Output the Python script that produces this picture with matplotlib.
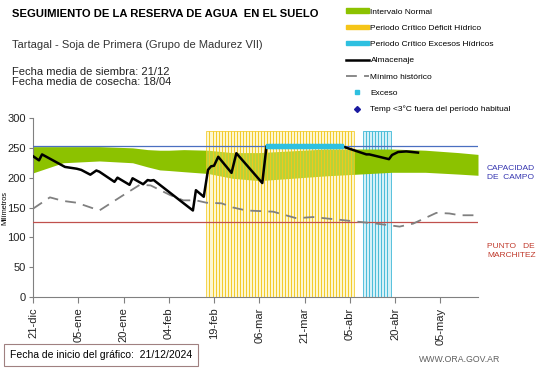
import numpy as np
import matplotlib
matplotlib.use("Agg")
import matplotlib.pyplot as plt
from matplotlib.lines import Line2D
from matplotlib.patches import Patch

plt.rcParams['font.family'] = ['Liberation Sans', 'DejaVu Sans']

# days counted from 21-dic
tick_days = [0, 15, 30, 45, 60, 75, 90, 105, 120, 135]
tick_labels = ['21-dic', '05-ene', '20-ene', '04-feb', '19-feb', '06-mar',
               '21-mar', '05-abr', '20-abr', '05-may']

# intervalo normal (upper / lower)
band_days = [0, 10, 22, 33, 38, 42, 45, 50, 58, 66, 75, 86, 97, 108, 119, 130, 141, 147.5]
band_high = [252, 252, 252, 250, 247, 246, 246, 247, 246, 242, 242, 245, 248, 248, 248, 246, 242, 239]
band_low = [208, 225, 228, 225, 218, 213, 212, 210, 207, 199, 195, 199, 203, 206, 209, 209, 206, 204]

# almacenaje
alm_days = [0, 2, 3, 10.6, 14.5, 16, 19, 21, 22, 27, 28, 32, 33, 36.5, 38, 39, 40,
            53, 54, 56.6, 58, 59, 60, 61.4, 65.8, 67.4, 76, 77.4, 102.8, 110.5,
            111.5, 118, 119, 121, 123.7, 127.6]
alm_vals = [236, 229, 239, 218, 215, 213, 205, 212, 210, 193, 200, 188, 199, 189, 196, 195, 196,
            145, 179, 168, 213, 219, 220, 235, 208, 241, 191, 253, 252, 239,
            239, 231, 238, 243, 244, 242]

# minimo historico
min_days = [0, 5.6, 10, 14.5, 22, 29.4, 35.4, 39, 45.4, 49.8, 54, 57.5, 62.5, 66.3, 70.7,
            79.6, 87.3, 92.8, 100.5, 108, 113.8, 121.5, 126, 133.7, 138, 141.4, 147.5]
min_vals = [148, 167, 161, 158, 145, 169, 188, 187, 171, 162, 162, 158, 157, 150, 145,
            143, 132, 134, 130, 126, 123, 118, 123, 141, 140, 137, 137]

capacidad = 253
marchitez = 125
deficit_period = (58, 106)
exceso_period = (110, 118)
exceso_marks = (78, 102)
bar_top = 278

fig = plt.figure(figsize=(5.41, 3.68), dpi=100)
ax = fig.add_axes([33 / 541, 71 / 368, 445 / 541, 179 / 368])

ax.fill_between(band_days, band_low, band_high, color='#8cc200', lw=0, zorder=2)

d_days = np.arange(deficit_period[0], deficit_period[1] + 1)
ax.bar(d_days, bar_top, width=1, color=(0.99, 0.93, 0.55, 0.4),
       edgecolor=(0.95, 0.78, 0.1, 0.75), linewidth=0.7, zorder=3)
e_days = np.arange(exceso_period[0], exceso_period[1] + 1)
ax.bar(e_days, bar_top, width=1, color='#d6f1f7', edgecolor='#40b8d8', linewidth=0.6, zorder=1)

ax.axhline(capacidad, color='#4a6fc0', lw=0.9, zorder=4)
ax.axhline(marchitez, color='#c0504d', lw=0.9, zorder=4)

ax.plot(min_days, min_vals, color='#808080', lw=1.3, dashes=(6, 4), zorder=5)
ax.plot(alm_days, alm_vals, color='black', lw=1.8, zorder=6)
x_days = np.arange(exceso_marks[0], exceso_marks[1] + 1)
ax.plot(x_days, [capacidad] * len(x_days), 's', color='#2ec0e0', ms=3.2, zorder=7)

ax.set_xlim(0, 147.5)
ax.set_ylim(0, 300)
ax.set_xticks(tick_days)
ax.set_xticklabels(tick_labels, rotation=90, fontsize=8, color='#222222')
ax.set_yticks(range(0, 301, 50))
ax.tick_params(axis='y', labelsize=8, colors='#222222', length=3, color='#808080', pad=2)
ax.tick_params(axis='x', length=4, color='#808080')
for s in ['top', 'right']:
    ax.spines[s].set_visible(False)
for s in ['left', 'bottom']:
    ax.spines[s].set_color('#808080')
fig.text(5 / 541, 1 - 208 / 368, 'Milímetros', fontsize=5.3, rotation=90,
         ha='center', va='center')

fig.text(487 / 541, 1 - 173 / 368, 'CAPACIDAD\nDE  CAMPO', color='#3535b0', fontsize=6,
         va='center', ha='left', linespacing=1.3)
fig.text(487 / 541, 1 - 251 / 368, 'PUNTO   DE\nMARCHITEZ', color='#c0392b', fontsize=6,
         va='center', ha='left', linespacing=1.3)

fig.text(12 / 541, 1 - 14 / 368, 'SEGUIMIENTO DE LA RESERVA DE AGUA  EN EL SUELO',
         fontsize=8.1, fontweight='bold', va='center')
fig.text(12 / 541, 1 - 45 / 368, 'Tartagal - Soja de Primera (Grupo de Madurez VII)',
         fontsize=8, color='#333333', va='center')
fig.text(12 / 541, 1 - 77 / 368, 'Fecha media de siembra: 21/12\nFecha media de cosecha: 18/04',
         fontsize=8, color='#222222', va='center', linespacing=1.0)

handles = [
    Patch(color='#8cc200'),
    Patch(color='#f5c518'),
    Patch(color='#2ec0e0'),
    Line2D([], [], color='black', lw=1.8),
    Line2D([], [], color='#808080', lw=1.3, dashes=(6, 4)),
    Line2D([], [], color='#2ec0e0', marker='s', ms=2.5, ls='none'),
    Line2D([], [], color='#1a1aa0', marker='D', ms=3, ls='none'),
]
labels = ['Intervalo Normal', 'Periodo Crítico Déficit Hídrico', 'Periodo Crítico Excesos Hídricos',
          'Almacenaje', 'Mínimo histórico', 'Exceso', 'Temp <3°C fuera del período habitual']
leg = fig.legend(handles, labels, loc='upper left', bbox_to_anchor=(338 / 541, 1 - 1 / 368),
                 frameon=False, fontsize=6, handlelength=2.8, handleheight=0.45,
                 labelspacing=1.08, handletextpad=0.2)

fig.text(10 / 541, 1 - 355 / 368, 'Fecha de inicio del gráfico:  21/12/2024', fontsize=7.5,
         va='center', ha='left',
         bbox=dict(boxstyle='square,pad=0.6', fc='white', ec='#a08080', lw=0.8))
fig.text(500 / 541, 1 - 360 / 368, 'WWW.ORA.GOV.AR', fontsize=6.3, color='#606060',
         ha='right', va='center')

fig.savefig('out.png', dpi=100)
